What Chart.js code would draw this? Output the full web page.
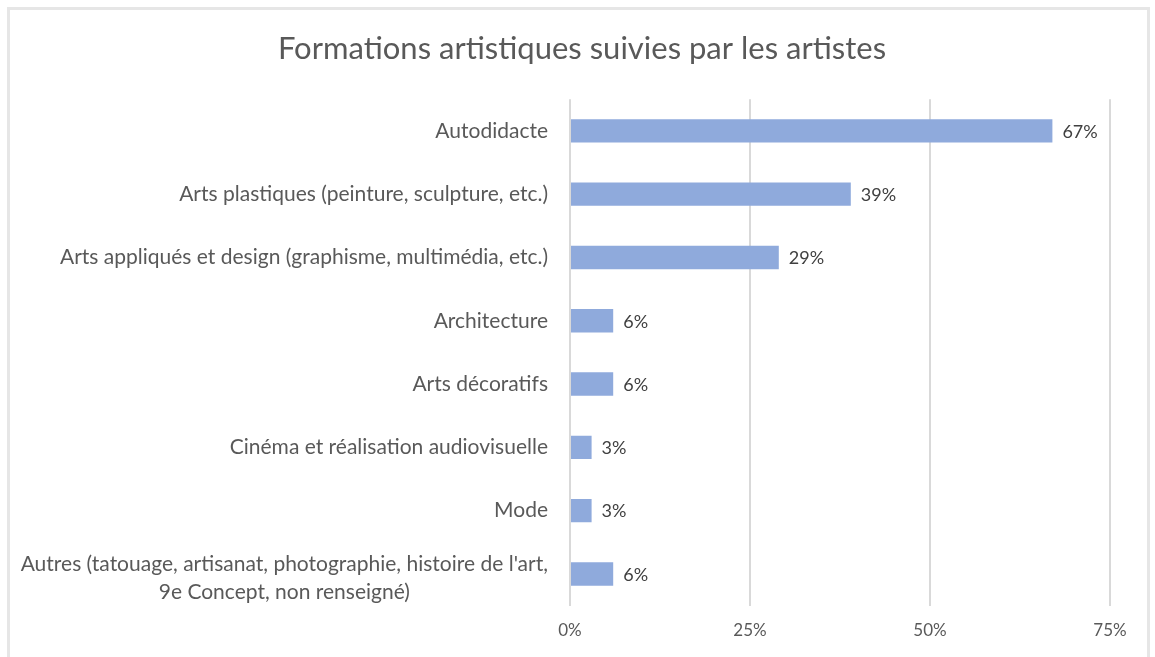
<!DOCTYPE html>
<html>
<head>
<meta charset="utf-8">
<script src="https://cdn.jsdelivr.net/npm/chart.js@4.4.1/dist/chart.umd.min.js"></script>
<style>
  html, body { margin: 0; padding: 0; background: #fff; }
  #wrap { position: relative; width: 1155px; height: 657px; }
  #frame { position: absolute; left: 7px; top: 7px; width: 1143px; height: 660px;
           border: 3px solid #e6e6e6; box-sizing: border-box; }
  canvas { position: absolute; left: 0; top: 0; }
</style>
</head>
<body>
<div id="wrap">
  <div id="frame"></div>
  <canvas id="chart" width="1155" height="657"></canvas>
</div>
<script>
const categories = [
  ['Autodidacte'],
  ['Arts plastiques (peinture, sculpture, etc.)'],
  ['Arts appliqués et design (graphisme, multimédia, etc.)'],
  ['Architecture'],
  ['Arts décoratifs'],
  ['Cinéma et réalisation audiovisuelle'],
  ['Mode'],
  ["Autres (tatouage, artisanat, photographie, histoire de l'art,", '9e Concept, non renseigné)']
];
const shares = [67, 39, 29, 6, 6, 3, 3, 6];
const xTicks = [0, 25, 50, 75];

const FONT = 'Lato, "Open Sans", "DejaVu Sans", sans-serif';

// category labels, drawn by hand so the two-line one is centred on itself
const categoryLabels = {
  id: 'categoryLabels',
  afterDraw(chart) {
    const { ctx } = chart;
    const y = chart.scales.y;
    const right = 548;
    ctx.save();
    ctx.font = '21px ' + FONT;
    ctx.fillStyle = '#595959';
    ctx.textBaseline = 'middle';
    categories.forEach((lines, i) => {
      const cy = y.getPixelForTick(i);
      if (lines.length === 1) {
        ctx.textAlign = 'right';
        ctx.fillText(lines[0], right, cy);
      } else {
        const w = Math.max(...lines.map(l => ctx.measureText(l).width));
        const cx = right - w / 2;
        const lh = 28;
        ctx.textAlign = 'center';
        lines.forEach((l, j) => {
          ctx.fillText(l, cx, cy + (j - (lines.length - 1) / 2) * lh + 4);
        });
      }
    });
    ctx.restore();
  }
};

const valueLabels = {
  id: 'valueLabels',
  afterDatasetsDraw(chart) {
    const { ctx } = chart;
    const meta = chart.getDatasetMeta(0);
    ctx.save();
    ctx.font = '18px ' + FONT;
    ctx.fillStyle = '#404040';
    ctx.textAlign = 'left';
    ctx.textBaseline = 'middle';
    meta.data.forEach((bar, i) => {
      ctx.fillText(shares[i] + '%', bar.x + 10, bar.y + 1);
    });
    ctx.restore();
  }
};

new Chart(document.getElementById('chart'), {
  type: 'bar',
  data: {
    labels: categories,
    datasets: [{
      data: shares,
      backgroundColor: '#8faadc',
      borderWidth: 0,
      barPercentage: 0.37,
      categoryPercentage: 1
    }]
  },
  options: {
    indexAxis: 'y',
    responsive: false,
    animation: false,
    layout: { padding: { top: 8, right: 45, bottom: 1, left: 54 } },
    plugins: {
      legend: { display: false },
      tooltip: { enabled: false },
      title: {
        display: true,
        text: 'Formations artistiques suivies par les artistes',
        color: '#595959',
        font: { family: FONT, size: 31, weight: 'normal' },
        padding: { top: 22, bottom: 32 }
      }
    },
    scales: {
      x: {
        min: 0,
        max: 75,
        afterBuildTicks(scale) { scale.ticks = xTicks.map(v => ({ value: v })); },
        ticks: {
          padding: 15,
          color: '#595959',
          font: { family: FONT, size: 17 },
          callback: v => v + '%'
        },
        grid: { color: '#d9d9d9', lineWidth: 2, drawTicks: false },
        border: { display: false }
      },
      y: {
        afterFit(scale) { scale.width = 516; },
        ticks: { display: false },
        grid: { display: false },
        border: { display: false }
      }
    }
  },
  plugins: [categoryLabels, valueLabels]
});
</script>
</body>
</html>
